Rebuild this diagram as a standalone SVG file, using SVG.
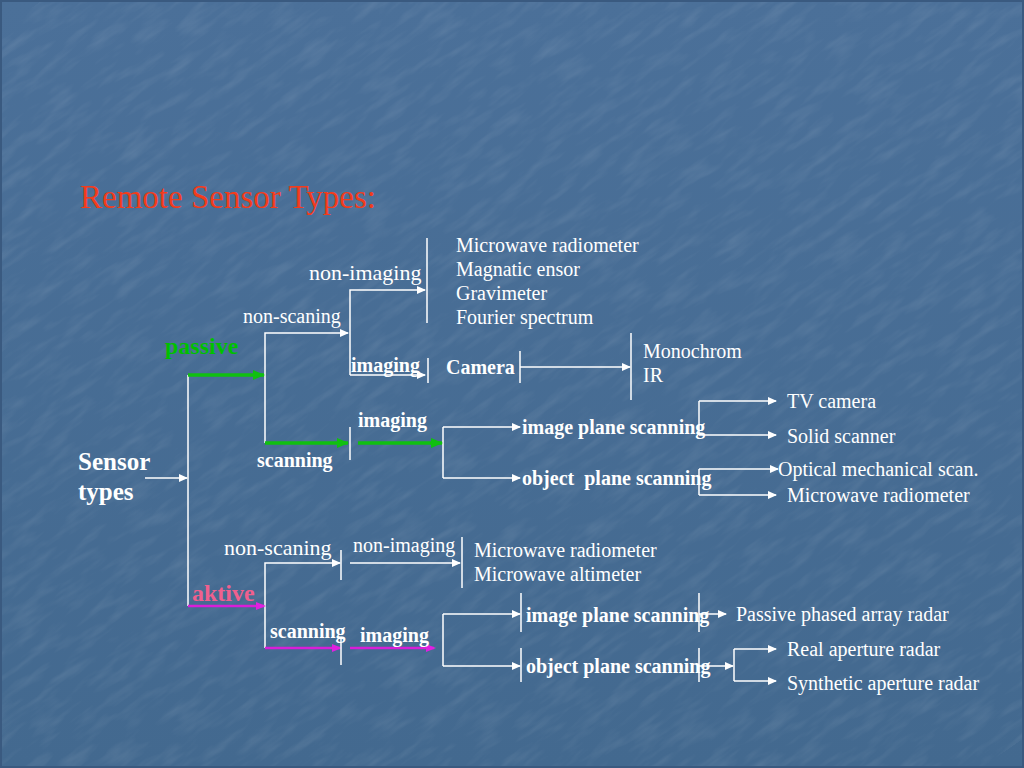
<svg xmlns="http://www.w3.org/2000/svg" width="1024" height="768" viewBox="0 0 1024 768">
<defs>
<linearGradient id="bg" x1="0" y1="0" x2="0" y2="1">
<stop offset="0" stop-color="#4b7099"/>
<stop offset="1" stop-color="#43698f"/>
</linearGradient>
<filter id="tex" x="0" y="0" width="100%" height="100%">
<feTurbulence type="fractalNoise" baseFrequency="0.025 0.11" numOctaves="3" seed="7"/>
<feColorMatrix type="matrix" values="0 0 0 0 1  0 0 0 0 1  0 0 0 0 1  0 0 0 1.4 -0.62"/>
</filter>
<marker id="aw" markerUnits="userSpaceOnUse" markerWidth="9" markerHeight="8" refX="8" refY="4" orient="auto">
<path d="M0,0 L9,4 L0,8 z" fill="#ffffff"/>
</marker>
<marker id="ag" markerUnits="userSpaceOnUse" markerWidth="12" markerHeight="10" refX="11" refY="5" orient="auto">
<path d="M0,0 L12,5 L0,10 z" fill="#10c010"/>
</marker>
<marker id="am" markerUnits="userSpaceOnUse" markerWidth="10" markerHeight="10" refX="8" refY="5" orient="auto">
<path d="M0,1 L10,5 L0,9 z" fill="#e020e0"/>
</marker>
<style>
.w{fill:none;stroke:#ffffff;stroke-width:1.5}
.wa{fill:none;stroke:#ffffff;stroke-width:1.5;marker-end:url(#aw)}
.g{fill:none;stroke:#10c010;stroke-width:3.5;marker-end:url(#ag)}
.m{fill:none;stroke:#d81ed8;stroke-width:2.5;marker-end:url(#am)}
text{font-family:"Liberation Serif","Times New Roman",serif;fill:#ffffff;font-size:20px}
.b{font-weight:bold}
.pre{white-space:pre}
</style>
</defs>
<rect x="0" y="0" width="1024" height="768" fill="url(#bg)"/>
<g opacity="0.12">
<rect x="-200" y="-200" width="1424" height="1168" filter="url(#tex)" transform="rotate(-35 512 384)"/>
</g>
<rect x="1" y="1" width="1022" height="766" fill="none" stroke="#3a5a80" stroke-width="2"/>

<g id="title"><text x="80" y="208" style="font-size:33px;fill:#f23c1c">Remote Sensor Types:</text></g>

<g id="connectors">
<path class="wa" d="M145,478 H187"/>
<path class="w" d="M188,375 V606"/>
<path class="wa" d="M265,443 V333 H348"/>
<path class="wa" d="M350,375 V290 H425"/>
<path class="wa" d="M350,375 H425"/>
<path class="w" d="M427,238 V323"/>
<path class="w" d="M428,358 V383"/>
<path class="w" d="M520,351 V383"/>
<path class="wa" d="M520,367 H630"/>
<path class="w" d="M631,333 V400"/>
<path class="w" d="M350,427 V460"/>
<path class="w" d="M443,427 V478"/>
<path class="wa" d="M443,427 H520"/>
<path class="wa" d="M443,478 H520"/>
<path class="w" d="M699,401 V435"/>
<path class="wa" d="M699,401 H776"/>
<path class="wa" d="M699,435 H776"/>
<path class="w" d="M699,469 V495"/>
<path class="wa" d="M699,469 H778"/>
<path class="wa" d="M699,495 H776"/>
<path class="g" d="M188,375 H264"/>
<path class="g" d="M265,443 H348"/>
<path class="g" d="M358,443 H442"/>
<path class="wa" d="M265,648 V563 H340"/>
<path class="w" d="M341,550 V580"/>
<path class="wa" d="M350,563 H460"/>
<path class="w" d="M462,537 V588"/>
<path class="m" d="M188,606 H264"/>
<path class="m" d="M265,648 H340"/>
<path class="w" d="M341,637 V665"/>
<path class="m" d="M350,648 H434"/>
<path class="w" d="M443,614 V666"/>
<path class="wa" d="M443,614 H520"/>
<path class="wa" d="M443,666 H520"/>
<path class="w" d="M521,593 V632"/>
<path class="w" d="M521,648 V682"/>
<path class="w" d="M699,593 V632"/>
<path class="w" d="M699,648 V682"/>
<path class="wa" d="M699,614 H726"/>
<path class="wa" d="M699,666 H733"/>
<path class="w" d="M734,649 V681"/>
<path class="wa" d="M734,649 H776"/>
<path class="wa" d="M734,681 H776"/>
</g>

<g id="sensor-types"><text class="b" x="78" y="470" style="font-size:25px">Sensor</text><text class="b" x="78" y="500" style="font-size:25px">types</text></g>
<g id="passive"><text class="b" x="165" y="354" style="font-size:24px;fill:#00c000">passive</text></g>
<g id="aktive"><text class="b" x="192" y="601" style="font-size:24px;fill:#f0608e">aktive</text></g>

<g id="p-non-scaning"><text x="243" y="323">non-scaning</text></g>
<g id="p-non-imaging"><text x="309" y="280" style="font-size:22px">non-imaging</text></g>
<g id="p-non-imaging-list">
<text x="456" y="252">Microwave radiometer</text>
<text x="456" y="276">Magnatic ensor</text>
<text x="456" y="300">Gravimeter</text>
<text x="456" y="324">Fourier spectrum</text>
</g>
<g id="p-imaging1"><text class="b" x="351" y="372">imaging</text></g>
<g id="p-camera"><text class="b" x="446" y="374">Camera</text></g>
<g id="p-camera-list"><text x="643" y="358">Monochrom</text><text x="643" y="382">IR</text></g>

<g id="p-scanning"><text class="b" x="257" y="467">scanning</text></g>
<g id="p-imaging2"><text class="b" x="358" y="427">imaging</text></g>
<g id="p-image-plane"><text class="b" x="522" y="434">image plane scanning</text></g>
<g id="p-object-plane"><text class="b pre" x="522" y="485">object  plane scanning</text></g>
<g id="p-tv"><text x="787" y="408">TV camera</text></g>
<g id="p-solid"><text x="787" y="443">Solid scanner</text></g>
<g id="p-optical"><text x="778" y="476">Optical mechanical scan.</text></g>
<g id="p-microwave"><text x="787" y="502">Microwave radiometer</text></g>

<g id="a-non-scaning"><text x="224" y="555" style="font-size:22px">non-scaning</text></g>
<g id="a-non-imaging"><text x="353" y="552">non-imaging</text></g>
<g id="a-non-imaging-list"><text x="474" y="557">Microwave radiometer</text><text x="474" y="581">Microwave altimeter</text></g>
<g id="a-scanning"><text class="b" x="270" y="638">scanning</text></g>
<g id="a-imaging"><text class="b" x="360" y="642">imaging</text></g>
<g id="a-image-plane"><text class="b" x="526" y="622">image plane scanning</text></g>
<g id="a-object-plane"><text class="b" x="526" y="673">object plane scanning</text></g>
<g id="a-passive-radar"><text x="736" y="621">Passive phased array radar</text></g>
<g id="a-real"><text x="787" y="656">Real aperture radar</text></g>
<g id="a-synthetic"><text x="787" y="690">Synthetic aperture radar</text></g>
</svg>
